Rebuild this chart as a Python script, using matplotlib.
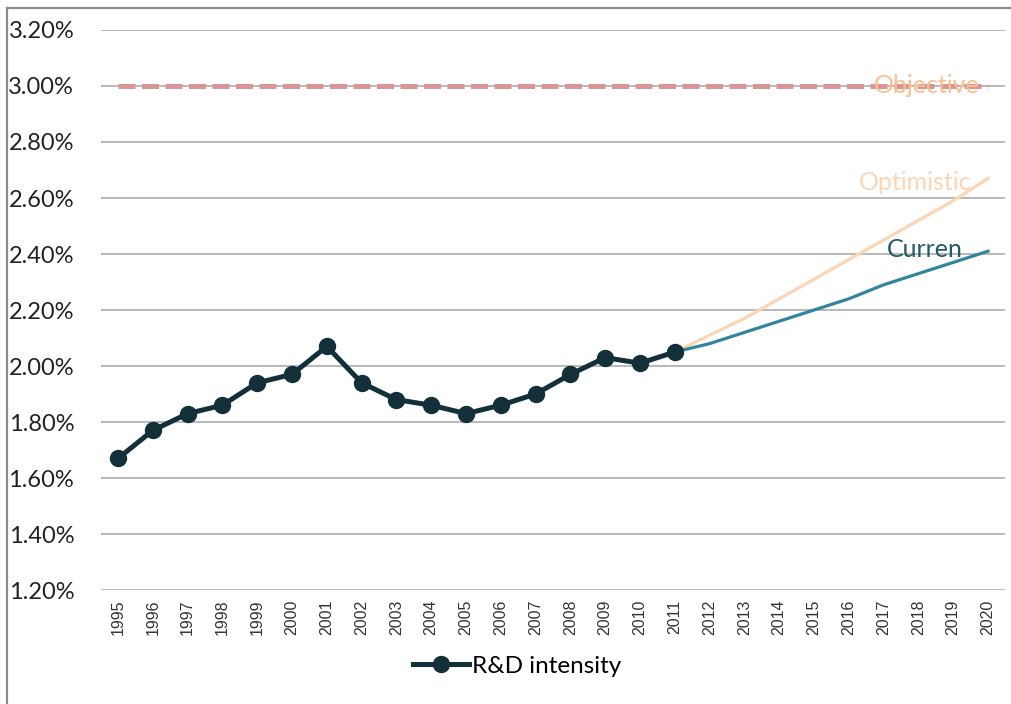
import matplotlib
matplotlib.use("Agg")
import matplotlib.pyplot as plt
from matplotlib.patches import Rectangle
from matplotlib.ticker import FuncFormatter

# data (percent)
years = [str(y) for y in range(1995, 2021)]
rd_years = years[:17]  # 1995..2011
rd_intensity = [1.67, 1.77, 1.83, 1.86, 1.94, 1.97, 2.07, 1.94, 1.88, 1.86,
                1.83, 1.86, 1.90, 1.97, 2.03, 2.01, 2.05]
proj_years = years[16:]  # 2011..2020
current = [2.05, 2.08, 2.12, 2.16, 2.20, 2.24, 2.29, 2.33, 2.37, 2.41]
optimistic = [2.05, 2.11, 2.17, 2.24, 2.31, 2.38, 2.45, 2.52, 2.59, 2.67]
objective = [3.00] * len(years)
yticks = [1.2, 1.4, 1.6, 1.8, 2.0, 2.2, 2.4, 2.6, 2.8, 3.0, 3.2]

txt_font = ["Lato", "DejaVu Sans"]
num_font = ["Liberation Sans", "DejaVu Sans"]

fig = plt.figure(figsize=(10.11, 7.04), dpi=100)
ax = fig.add_axes([0.0995, 0.1619, 0.895, 0.7955])

# outer chart frame (only left/top edges visible in the crop)
fig.patches.append(Rectangle((7 / 1011, -0.1), 1.2, 1 - 8 / 704 + 0.1,
                             transform=fig.transFigure, fill=False,
                             edgecolor="#8c8c8c", linewidth=1.6))

x_all = range(len(years))
x_rd = range(len(rd_years))
x_proj = range(16, 16 + len(proj_years))

ax.plot(x_all, objective, color="#D99694", linewidth=3.6,
        linestyle=(0, (3.4, 1.3)), zorder=3)
ax.plot(x_proj, optimistic, color="#FCD5B5", linewidth=2.3, zorder=3)
ax.plot(x_proj, current, color="#31859C", linewidth=2.3, zorder=4)
ax.plot(x_rd, rd_intensity, color="#13303A", linewidth=3.6, marker="o",
        markersize=11.5, label="R&D intensity", zorder=5)

# end labels
ax.annotate("Objective", (25, objective[-1]), xytext=(-6, 0),
            textcoords="offset points", ha="right", va="center",
            color="#FAC090", fontsize=18, family=txt_font, zorder=6)
ax.annotate("Optimistic", (25, optimistic[-1]), xytext=(-12, -3),
            textcoords="offset points", ha="right", va="center",
            color="#FCD5B5", fontsize=18, family=txt_font, zorder=6)
ax.annotate("Curren", (25, current[-1]), xytext=(-18, 1),
            textcoords="offset points", ha="right", va="center",
            color="#215968", fontsize=18, family=txt_font, zorder=6)

ax.set_xlim(-0.5, len(years) - 0.5)
ax.set_ylim(1.2, 3.2)
ax.set_yticks(yticks)
ax.yaxis.set_major_formatter(FuncFormatter(lambda v, p: f"{v:.2f}%"))
ax.set_xticks(list(x_all))
ax.set_xticklabels(years, rotation=90, fontsize=11.5, family=num_font,
                   color="#333333")
for lab in ax.get_yticklabels():
    lab.set_fontfamily(txt_font)
    lab.set_fontsize(17)
    lab.set_color("#222222")
ax.tick_params(axis="y", length=0, pad=19)
ax.tick_params(axis="x", length=0, pad=7)

ax.grid(axis="y", color="#A6A6A6", linewidth=1.1)
ax.set_axisbelow(True)
for s in ax.spines.values():
    s.set_visible(False)

leg = fig.legend(loc="center", bbox_to_anchor=(517 / 1011, 1 - 666 / 704),
                 frameon=False, handlelength=2.3, handletextpad=0.1,
                 prop={"family": txt_font, "size": 17.5})

fig.savefig("out.png", dpi=100)
